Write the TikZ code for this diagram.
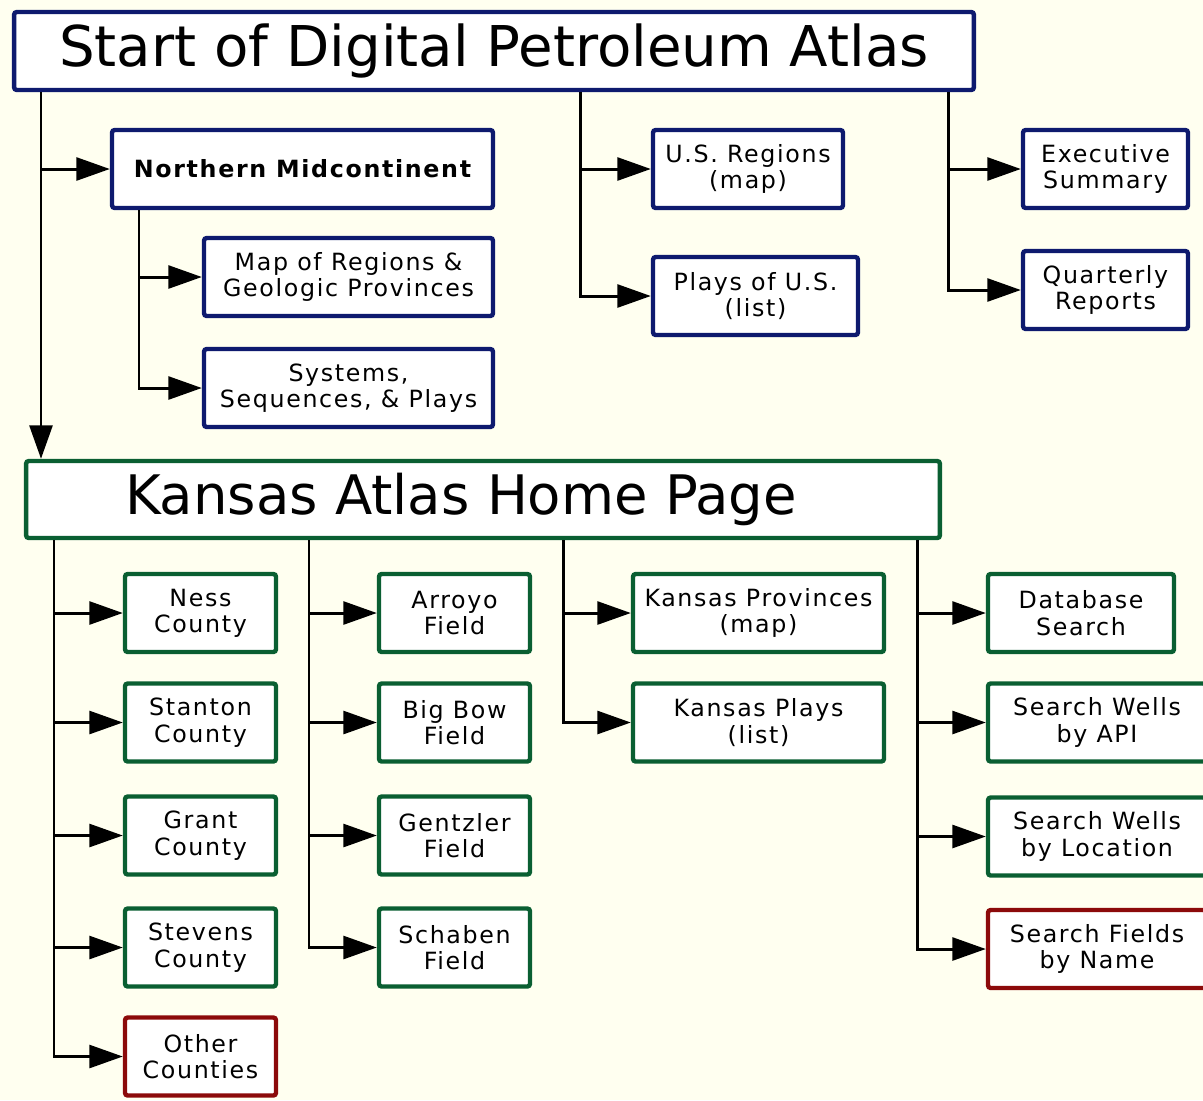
\documentclass[tikz,border=0pt]{standalone}
\usepackage{fontspec}
\newfontfamily\boxfont{DejaVu Sans}[LetterSpace=7]
\newfontfamily\headfont{DejaVu Sans}
\usetikzlibrary{arrows.meta}
\definecolor{paper}{RGB}{255,255,240}
\definecolor{atlasblue}{RGB}{14,26,110}
\definecolor{ksgreen}{RGB}{10,95,50}
\definecolor{ksred}{RGB}{140,10,10}

\tikzset{page/.style={draw, fill=white, rounded corners=1.5pt, line width=2.5pt, inner sep=2pt,
    align=center, minimum height=1.56cm, font=\boxfont\fontsize{13.5}{15}\selectfont}}
\tikzstyle{us}=[page, draw=atlasblue]
\tikzstyle{ks}=[page, draw=ksgreen]
\tikzstyle{new}=[page, draw=ksred]
\tikzstyle{link}=[line width=1.7pt, -{Triangle[length=19pt,width=13pt]}]

\begin{document}
\begin{tikzpicture}[x=0.02cm, y=-0.02cm]
    \useasboundingbox[fill=paper] (0,0) rectangle (1203,1100);

    \node [us, minimum width=19.2cm, font=\headfont\fontsize{32}{36}\selectfont] (start) at (494,51) {Start of Digital Petroleum Atlas};
    \node [us, minimum width=7.62cm, font=\boxfont\bfseries\fontsize{13.5}{15}\selectfont] (north) at (302.5,169) {Northern Midcontinent};
    \node [us, minimum width=5.78cm] (regions) at (348.5,277) {Map of Regions \&\\Geologic Provinces};
    \node [us, minimum width=5.78cm] (systems) at (348.5,388) {Systems,\\Sequences, \& Plays};
    \node [us, minimum width=3.8cm] (usmap) at (748,169) {U.S. Regions\\(map)};
    \node [us, minimum width=4.1cm] (usplays) at (755.5,296) {Plays of U.S.\\(list)};
    \node [us, minimum width=3.3cm] (summary) at (1105.5,169) {Executive\\Summary};
    \node [us, minimum width=3.3cm] (quarterly) at (1105.5,290) {Quarterly\\Reports};

    \node [ks, minimum width=18.28cm, minimum height=1.54cm, font=\headfont\fontsize{31}{36}\selectfont] (kansas) at (483,499.5) {Kansas Atlas Home Page\hspace*{0.88cm}};

    \node [ks, minimum width=3.02cm] (ness) at (200.5,613) {Ness\\County};
    \node [ks, minimum width=3.02cm] (stanton) at (200.5,722.5) {Stanton\\County};
    \node [ks, minimum width=3.02cm] (grant) at (200.5,835.5) {Grant\\County};
    \node [ks, minimum width=3.02cm] (stevens) at (200.5,947.5) {Stevens\\County};
    \node [new, minimum width=3.02cm] (other) at (200.5,1056.5) {Other\\Counties};

    \node [ks, minimum width=3.02cm] (arroyo) at (454.5,613) {Arroyo\\Field};
    \node [ks, minimum width=3.02cm] (bigbow) at (454.5,722.5) {Big Bow\\Field};
    \node [ks, minimum width=3.02cm] (gentzler) at (454.5,835.5) {Gentzler\\Field};
    \node [ks, minimum width=3.02cm] (schaben) at (454.5,947.5) {Schaben\\Field};

    \node [ks, minimum width=5.02cm] (ksmap) at (758.5,613) {Kansas Provinces\\(map)};
    \node [ks, minimum width=5.02cm] (ksplays) at (758.5,722.5) {Kansas Plays\\(list)};

    \node [ks, minimum width=3.72cm] (database) at (1081,613) {Database\\Search};
    \node [ks, minimum width=4.36cm] (api) at (1097,722.5) {Search Wells\\by API};
    \node [ks, minimum width=4.36cm] (location) at (1097,836.5) {Search Wells\\by Location};
    \node [new, minimum width=4.36cm] (fields) at (1097,949) {Search Fields\\by Name};

    \coordinate (sa) at (41,0);
    \coordinate (sb) at (139,0);
    \coordinate (sc) at (580,0);
    \coordinate (sd) at (948,0);
    \coordinate (ka) at (54,0);
    \coordinate (kb) at (309,0);
    \coordinate (kc) at (563,0);
    \coordinate (kd) at (917,0);

    \draw [link] (sa |- start.south) |- (north);
    \draw [link] (sa |- start.south) -- (sa |- kansas.north);
    \draw [link] (sb |- north.south) |- (regions);
    \draw [link] (sb |- north.south) |- (systems);
    \draw [link] (sc |- start.south) |- (usmap);
    \draw [link] (sc |- start.south) |- (usplays);
    \draw [link] (sd |- start.south) |- (summary);
    \draw [link] (sd |- start.south) |- (quarterly);

    \draw [link] (ka |- kansas.south) |- (ness);
    \draw [link] (ka |- kansas.south) |- (stanton);
    \draw [link] (ka |- kansas.south) |- (grant);
    \draw [link] (ka |- kansas.south) |- (stevens);
    \draw [link] (ka |- kansas.south) |- (other);
    \draw [link] (kb |- kansas.south) |- (arroyo);
    \draw [link] (kb |- kansas.south) |- (bigbow);
    \draw [link] (kb |- kansas.south) |- (gentzler);
    \draw [link] (kb |- kansas.south) |- (schaben);
    \draw [link] (kc |- kansas.south) |- (ksmap);
    \draw [link] (kc |- kansas.south) |- (ksplays);
    \draw [link] (kd |- kansas.south) |- (database);
    \draw [link] (kd |- kansas.south) |- (api);
    \draw [link] (kd |- kansas.south) |- (location);
    \draw [link] (kd |- kansas.south) |- (fields);
\end{tikzpicture}
\end{document}
